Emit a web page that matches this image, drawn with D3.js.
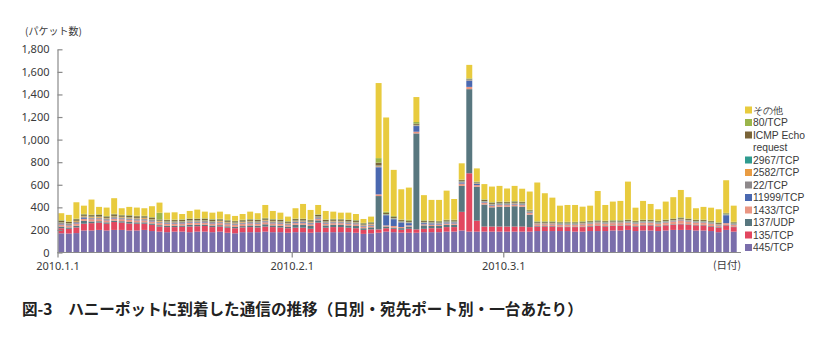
<!DOCTYPE html>
<html><head><meta charset="utf-8">
<script src="https://cdn.jsdelivr.net/npm/d3@7"></script>
<style>
body{margin:0;background:#fff}
svg{display:block}
text{font-family:"Noto Sans CJK JP","Noto Sans",sans-serif}
</style>
</head><body>
<svg id="c" width="826" height="354"></svg>
<script>
// ---- data ----
const dates = d3.utcDay.range(new Date(Date.UTC(2010,0,1)), new Date(Date.UTC(2010,3,1)));
const xTickDates = [new Date(Date.UTC(2010,0,1)), new Date(Date.UTC(2010,1,1)), new Date(Date.UTC(2010,2,1))];
const xTickLabels = ["2010.1.1","2010.2.1","2010.3.1"];
const yTicks = [0,200,400,600,800,1000,1200,1400,1600,1800];
const seriesNames = ["445/TCP","135/TCP","137/UDP","1433/TCP","11999/TCP","22/TCP","2582/TCP","2967/TCP","ICMP Echo request","80/TCP","その他"];
const seriesColors = ["#7a6eab","#e2475f","#58777f","#ea9682","#4a68b0","#8e898b","#e99c43","#2f9b8f","#7a6438","#9ab54b","#e8cb3e"];

const s445 = [170,168,172,195,195,200,195,200,200,195,195,200,190,185,180,185,185,180,185,185,180,185,175,170,180,180,180,185,180,180,175,
 180,180,175,180,180,180,180,180,175,165,170,175,185,180,176,175,175,180,180,180,185,185,195,185,185,185,185,185,
 185,185,185,185,190,190,190,190,190,185,185,190,190,190,195,195,200,190,195,195,190,195,200,200,200,195,195,190,180,200,185];
const s135 = [45,42,50,60,65,65,60,70,65,62,60,55,55,45,45,40,42,50,48,50,45,45,45,45,42,45,42,45,45,42,40,
 40,40,35,85,40,45,45,40,40,35,35,30,30,30,25,35,30,30,35,35,40,40,165,517,97,45,45,45,
 45,45,45,40,40,40,40,35,35,40,40,40,45,40,40,40,40,40,45,45,40,45,45,50,45,45,45,40,40,40,40];
const s137udp = [15,12,15,25,15,12,12,12,12,14,12,12,12,12,12,12,12,15,12,12,14,12,12,12,12,15,15,20,15,15,12,
 25,25,25,20,20,20,20,20,20,15,18,295,15,10,15,20,850,30,20,20,20,20,230,745,300,195,170,175,
 175,180,175,110,5,5,5,5,5,5,5,5,5,5,5,5,5,5,5,5,5,5,5,5,5,5,5,5,5,5,5];
const s1433 = [18,18,20,18,20,18,18,18,18,18,18,18,18,18,18,18,18,18,18,18,18,18,18,18,18,18,18,18,18,18,15,
 15,15,15,15,15,15,15,15,15,12,12,15,10,15,10,10,15,10,12,12,12,12,20,20,15,15,15,15,
 15,15,15,15,15,15,15,15,15,15,20,20,20,20,20,20,20,20,20,20,20,20,25,30,25,20,20,20,15,15,15];
const s11999 = [5,4,5,10,5,5,5,5,5,5,5,5,5,5,5,5,5,5,5,5,5,5,5,5,5,5,5,5,5,5,5,
 8,8,8,5,5,5,5,5,5,5,5,240,90,60,40,20,50,10,10,8,8,8,10,55,10,5,5,5,
 5,5,5,5,3,3,3,3,3,3,3,3,3,3,3,3,3,3,3,3,3,3,3,3,3,3,3,3,3,70,3];
const s22 = [8,8,8,8,8,8,8,8,8,8,8,8,8,8,8,8,8,8,8,8,8,8,8,8,8,8,8,8,8,8,8,
 8,8,8,8,8,8,8,8,8,8,8,8,5,5,5,5,5,5,5,5,5,5,5,5,5,5,5,5,
 5,5,5,5,5,5,5,5,5,5,5,5,5,5,5,5,5,5,5,5,5,5,5,5,5,5,5,5,5,5,5];
const s2582 = [6,6,8,6,8,8,6,8,6,8,6,8,6,6,6,6,6,6,6,6,6,6,6,6,6,6,6,6,6,6,5,
 5,5,5,5,5,5,5,5,5,5,5,5,3,3,3,3,3,3,3,3,3,3,3,3,3,3,3,3,
 3,3,3,3,3,3,3,3,3,3,3,3,3,3,3,3,3,3,3,3,3,3,3,3,3,3,3,3,3,3,3];
const s2967 = [3,3,3,3,3,3,3,3,3,3,3,3,3,3,3,3,3,3,3,3,3,3,3,3,3,3,3,3,3,3,3,
 3,3,3,3,3,3,3,3,3,3,3,3,3,3,3,3,3,3,3,3,3,3,3,3,3,3,3,3,
 3,3,3,3,3,3,3,3,3,3,3,3,3,3,3,3,3,3,3,3,3,3,3,3,3,3,3,3,3,3,3];
const sICMP = [12,10,14,12,12,14,12,14,12,14,14,12,12,10,10,10,10,12,12,12,12,12,12,10,12,12,12,12,12,12,10,
 12,12,12,12,12,12,12,12,12,10,10,25,10,10,10,10,10,10,10,10,10,10,10,5,5,10,10,10,
 10,10,10,8,8,8,8,8,8,8,8,8,8,8,8,8,8,8,8,8,8,8,8,8,8,8,8,8,8,5,8];
const s80 = [5,4,5,5,5,6,5,5,5,5,5,5,5,60,5,5,5,5,5,5,5,5,5,5,5,5,5,5,5,5,5,
 5,5,5,5,5,5,5,5,5,5,5,40,10,8,5,8,15,5,5,5,5,5,5,5,5,5,5,5,
 5,5,5,5,5,5,5,5,5,5,5,5,5,5,5,5,5,5,5,5,5,5,5,5,5,5,5,5,5,5,5];
const sOther = [61,58,145,73,133,65,74,138,58,72,72,66,96,90,61,64,47,66,78,58,57,63,50,42,50,65,54,114,71,59,40,
 91,129,86,83,75,64,55,60,53,34,47,665,835,408,268,286,221,222,183,185,257,183,144,119,117,135,138,139,
 116,134,114,161,343,248,209,143,149,149,129,133,258,139,164,170,336,115,165,138,101,159,188,242,188,100,112,115,116,289,143];

const seriesValues = [s445,s135,s137udp,s1433,s11999,s22,s2582,s2967,sICMP,s80,sOther];

// ---- build table ----
const table = dates.map((d,i)=>{
  const row = {date:d};
  seriesNames.forEach((n,k)=>row[n]=seriesValues[k][i]);
  return row;
});

const svg = d3.select("#c");
const x = d3.scaleUtc().domain([new Date(Date.UTC(2010,0,1)), new Date(Date.UTC(2010,3,1))]).range([57.5, 737.5]);
const y = d3.scaleLinear().domain([0,1800]).range([252.5, 49.3]);
const color = d3.scaleOrdinal().domain(seriesNames).range(seriesColors);

const layers = d3.stack().keys(seriesNames)(table);

svg.append("g").selectAll("g.layer").data(layers).join("g")
  .attr("class","layer").attr("fill", d=>color(d.key))
  .selectAll("rect").data(d=>d).join("rect")
  .attr("x", d=>x(d.data.date)+0.8)
  .attr("width", d=>x(d3.utcDay.offset(d.data.date,1))-x(d.data.date)-1.6)
  .attr("y", d=>y(d[1]))
  .attr("height", d=>Math.max(0, y(d[0])-y(d[1])));

const sans = "'Noto Sans', sans-serif";
// y axis
const yAxis = d3.axisLeft(y).tickValues(yTicks).tickFormat(d3.format(",")).tickSizeInner(-5).tickSizeOuter(0).tickPadding(8);
const ya = svg.append("g").attr("transform","translate(57.5,0)").call(yAxis);
ya.select(".domain").attr("stroke","#8a8a8a").attr("stroke-width",1.2);
ya.selectAll(".tick line").attr("stroke","#8a8a8a").attr("stroke-width",1.2);
ya.selectAll(".tick text").attr("fill","#3a3a3a").style("font-size","11px").style("font-family",sans);

// x axis
const xAxis = d3.axisBottom(x).tickValues(xTickDates).tickFormat((d,i)=>xTickLabels[i]).tickSizeInner(5).tickSizeOuter(0).tickPadding(5);
const xa = svg.append("g").attr("transform","translate(0,252.5)").call(xAxis);
xa.select(".domain").attr("d","M57.5,0H741").attr("stroke","#8a8a8a").attr("stroke-width",1.2);
xa.selectAll(".tick line").attr("stroke","#8a8a8a").attr("stroke-width",1.2);
xa.selectAll(".tick text").attr("fill","#3a3a3a").style("font-size","11px").style("font-family",sans);

svg.append("text").attr("x",713).attr("y",269).attr("fill","#3a3a3a").style("font-size","10.5px").text("(日付)");
svg.append("text").attr("x",25).attr("y",35).attr("fill","#3a3a3a").style("font-size","10px").text("(パケット数)");

// legend
const legendItems = seriesNames.slice().reverse();
const legendLabels = {"ICMP Echo request":["ICMP Echo","request"]};
let ly = 110;
const lg = svg.append("g");
legendItems.forEach(n=>{
  const lines = legendLabels[n] || [n];
  lg.append("rect").attr("x",745).attr("y",ly-3.5).attr("width",7).attr("height",7).attr("fill",color(n));
  lines.forEach((t,j)=>{
    lg.append("text").attr("x",753).attr("y",ly+3.7+j*11.8).attr("fill","#3a3a3a")
      .style("font-size","10.3px").style("font-family","'Liberation Sans', Arial, sans-serif").text(t);
  });
  ly += 12.5*lines.length;
});

// title
svg.append("text").attr("x",22).attr("y",314.5).attr("fill","#222").style("font-size","15.6px").style("font-weight","700")
  .text("図-3　ハニーポットに到着した通信の推移（日別・宛先ポート別・一台あたり）");
</script>
</body></html>
